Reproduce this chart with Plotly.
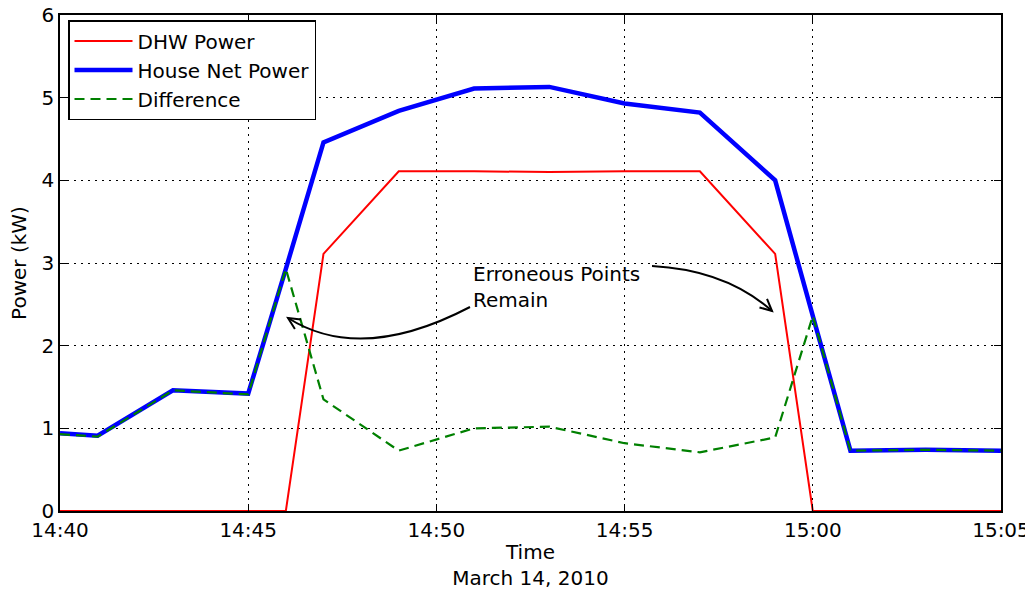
import plotly.graph_objects as go

# Sample times (March 14, 2010) and measured power in kW
times = ["14:40", "14:41", "14:43", "14:45", "14:46", "14:47", "14:49", "14:51",
         "14:53", "14:55", "14:57", "14:59", "15:00", "15:01", "15:03", "15:05"]
dhw_power = [0.00, 0.00, 0.00, 0.00, 0.00, 3.11, 4.11, 4.11,
             4.10, 4.11, 4.11, 3.11, 0.00, 0.00, 0.00, 0.00]
house_net_power = [0.94, 0.91, 1.46, 1.42, 2.93, 4.46, 4.84, 5.11,
                   5.13, 4.93, 4.82, 4.00, 2.36, 0.73, 0.74, 0.73]
difference = [0.93, 0.90, 1.46, 1.41, 2.93, 1.35, 0.73, 1.00,
              1.02, 0.82, 0.71, 0.89, 2.36, 0.73, 0.74, 0.73]

x = ["2010-03-14 " + t + ":00" for t in times]

FONT = "DejaVu Sans"
W, H = 1025, 590
ML, MR, MT, MB = 60, 24, 15, 79
PW, PH = W - ML - MR, H - MT - MB

fig = go.Figure()
fig.add_trace(go.Scatter(x=x, y=dhw_power, mode="lines", name="DHW Power",
                         line=dict(color="#ff0000", width=2), legendgroup="a"))
fig.add_trace(go.Scatter(x=x, y=house_net_power, mode="lines", name="House Net Power",
                         line=dict(color="#0000ff", width=4.5), legendgroup="b"))
fig.add_trace(go.Scatter(x=x, y=difference, mode="lines", name="Difference",
                         line=dict(color="#008000", width=2.2, dash="10px,6px"),
                         legendgroup="c"))


def to_paper(px, py):
    return (px - ML) / PW, (MT + PH - py) / PH


def curved_arrow(p0, c, p2, head=13, spread=0.45):
    """Quadratic curve from p0 to p2 (pixel coords) with an open arrowhead at p2."""
    import math
    pts = [to_paper(*p) for p in (p0, c, p2)]
    body = "M {0},{1} Q {2},{3} {4},{5}".format(pts[0][0], pts[0][1], pts[1][0],
                                               pts[1][1], pts[2][0], pts[2][1])
    dx, dy = p2[0] - c[0], p2[1] - c[1]
    n = math.hypot(dx, dy)
    ux, uy = dx / n, dy / n
    wings = []
    for s in (spread, -spread):
        cs, sn = math.cos(s), math.sin(s)
        rx, ry = ux * cs - uy * sn, ux * sn + uy * cs
        wings.append(to_paper(p2[0] - head * rx, p2[1] - head * ry))
    tip = pts[2]
    hd = "M {0},{1} L {2},{3} L {4},{5}".format(wings[0][0], wings[0][1], tip[0], tip[1],
                                               wings[1][0], wings[1][1])
    style = dict(type="path", xref="paper", yref="paper",
                 line=dict(color="black", width=2), layer="above")
    return [dict(path=body, **style), dict(path=hd, **style)]


shapes = []
shapes += curved_arrow((470, 307), (361, 364), (288, 318))
shapes += curved_arrow((652, 266), (726, 270), (772, 311))

ax_common = dict(showline=True, linecolor="black", linewidth=1.5, mirror="ticks",
                 ticks="inside", ticklen=7, tickwidth=1, tickcolor="black",
                 showgrid=True, gridcolor="black", gridwidth=1, griddash="2px,5px",
                 zeroline=False, automargin=False, ticklabeloverflow="allow",
                 tickfont=dict(family=FONT, size=20, color="black"))

fig.update_layout(
    width=W, height=H,
    margin=dict(l=ML, r=MR, t=MT, b=MB),
    paper_bgcolor="white", plot_bgcolor="white",
    font=dict(family=FONT, size=20, color="black"),
    showlegend=True,
    legend=dict(x=(68 - ML) / PW, y=1 - (20 - MT) / PH, xanchor="left", yanchor="top",
                bgcolor="white", bordercolor="black", borderwidth=1.5,
                font=dict(family=FONT, size=20, color="black"),
                itemwidth=58, tracegroupgap=6, traceorder="normal"),
    xaxis=dict(type="date", range=["2010-03-14 14:40:00", "2010-03-14 15:05:00.01"],
               dtick=5 * 60 * 1000, tickformat="%H:%M",
               title=dict(text="Time<br>March 14, 2010",
                          font=dict(family=FONT, size=20), standoff=7),
               **ax_common),
    yaxis=dict(range=[0, 6], dtick=1,
               title=dict(text="Power (kW)", font=dict(family=FONT, size=20), standoff=10),
               **ax_common),
    shapes=shapes,
    annotations=[dict(text="Erroneous Points<br>Remain", xref="paper", yref="paper",
                      x=(472 - ML) / PW, y=(MT + PH - 261) / PH,
                      xanchor="left", yanchor="top", align="left", showarrow=False,
                      borderpad=0, font=dict(family=FONT, size=20, color="black"))],
)

fig.write_html("out.html")
